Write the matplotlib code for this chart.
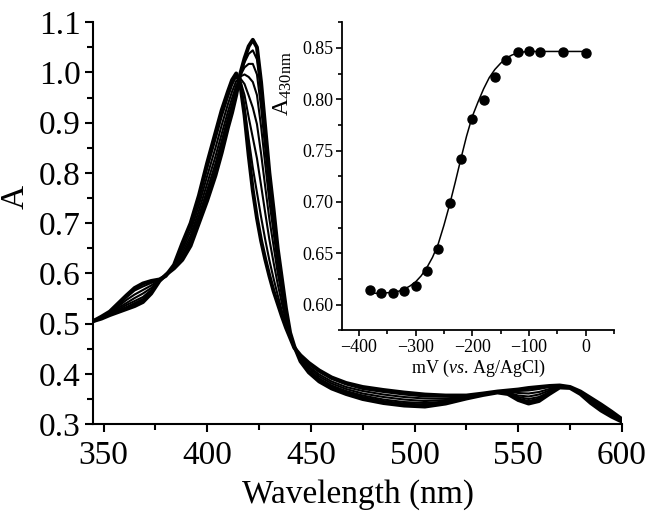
import matplotlib.pyplot as plt
from matplotlib.ticker import MultipleLocator, FormatStrFormatter

plt.rcParams['font.family'] = ['Liberation Serif', 'DejaVu Serif']
plt.rcParams['mathtext.fontset'] = 'custom'
plt.rcParams['mathtext.rm'] = 'Liberation Serif'
plt.rcParams['mathtext.it'] = 'Liberation Serif:italic'

# wavelength grid (nm) shared by all spectra
wl = [345, 349, 353, 357, 361, 365, 369, 373, 377, 380,
      384, 388, 392, 396, 400, 404, 407, 410, 412, 414,
      416, 418, 420, 422, 424, 426, 428, 430, 432, 434,
      436, 438, 440, 442, 445, 449, 454, 460, 467, 475,
      485, 495, 505, 515, 525, 533, 540, 545, 550, 555,
      560, 565, 570, 575, 580, 585, 590, 595, 600]

# spectra, from the 415 nm form to the 422 nm form
spec_a = [0.505, 0.514, 0.524, 0.540, 0.556, 0.571, 0.580, 0.585, 0.588, 0.595,
          0.617, 0.660, 0.700, 0.755, 0.820, 0.880, 0.925, 0.962, 0.985, 0.998,
          0.975, 0.915, 0.835, 0.765, 0.710, 0.665, 0.628, 0.595, 0.565, 0.540,
          0.515, 0.492, 0.472, 0.452, 0.437, 0.422, 0.407, 0.393, 0.382, 0.374,
          0.368, 0.363, 0.359, 0.357, 0.357, 0.361, 0.365, 0.367, 0.369, 0.372,
          0.374, 0.376, 0.377, 0.374, 0.365, 0.352, 0.339, 0.325, 0.310]
spec_b = [0.505, 0.513, 0.523, 0.537, 0.552, 0.566, 0.574, 0.581, 0.588, 0.595,
          0.616, 0.655, 0.693, 0.747, 0.809, 0.867, 0.912, 0.951, 0.975, 0.992,
          0.979, 0.932, 0.868, 0.810, 0.761, 0.712, 0.667, 0.626, 0.590, 0.557,
          0.526, 0.498, 0.474, 0.452, 0.435, 0.419, 0.404, 0.390, 0.379, 0.370,
          0.364, 0.359, 0.355, 0.355, 0.356, 0.361, 0.365, 0.366, 0.366, 0.367,
          0.370, 0.374, 0.376, 0.374, 0.364, 0.351, 0.337, 0.324, 0.309]
spec_c = [0.505, 0.513, 0.522, 0.534, 0.547, 0.558, 0.567, 0.576, 0.587, 0.596,
          0.615, 0.648, 0.684, 0.736, 0.794, 0.850, 0.895, 0.937, 0.962, 0.983,
          0.983, 0.955, 0.911, 0.870, 0.829, 0.775, 0.720, 0.667, 0.622, 0.579,
          0.541, 0.505, 0.476, 0.453, 0.433, 0.415, 0.399, 0.385, 0.374, 0.366,
          0.359, 0.354, 0.351, 0.351, 0.355, 0.360, 0.364, 0.365, 0.362, 0.361,
          0.364, 0.370, 0.376, 0.373, 0.363, 0.349, 0.335, 0.322, 0.308]
spec_d = [0.505, 0.512, 0.520, 0.531, 0.541, 0.551, 0.560, 0.571, 0.586, 0.596,
          0.613, 0.642, 0.675, 0.725, 0.779, 0.833, 0.878, 0.922, 0.949, 0.974,
          0.988, 0.977, 0.954, 0.930, 0.897, 0.838, 0.772, 0.708, 0.655, 0.601,
          0.556, 0.513, 0.478, 0.454, 0.430, 0.412, 0.395, 0.381, 0.370, 0.361,
          0.354, 0.349, 0.346, 0.348, 0.354, 0.359, 0.364, 0.363, 0.357, 0.355,
          0.359, 0.367, 0.375, 0.373, 0.362, 0.347, 0.332, 0.320, 0.307]
spec_e = [0.505, 0.511, 0.519, 0.528, 0.537, 0.545, 0.553, 0.567, 0.586, 0.596,
          0.612, 0.636, 0.668, 0.715, 0.766, 0.819, 0.864, 0.910, 0.938, 0.967,
          0.992, 0.996, 0.991, 0.981, 0.955, 0.892, 0.817, 0.743, 0.682, 0.619,
          0.569, 0.519, 0.479, 0.454, 0.428, 0.408, 0.391, 0.377, 0.366, 0.357,
          0.349, 0.344, 0.342, 0.345, 0.353, 0.359, 0.364, 0.362, 0.354, 0.350,
          0.354, 0.364, 0.374, 0.373, 0.361, 0.345, 0.330, 0.318, 0.306]
spec_f = [0.505, 0.511, 0.518, 0.526, 0.533, 0.541, 0.549, 0.564, 0.586, 0.597,
          0.611, 0.632, 0.662, 0.709, 0.757, 0.809, 0.854, 0.902, 0.930, 0.962,
          0.994, 1.010, 1.017, 1.017, 0.996, 0.930, 0.848, 0.767, 0.702, 0.632,
          0.578, 0.524, 0.480, 0.455, 0.427, 0.406, 0.389, 0.375, 0.364, 0.354,
          0.346, 0.341, 0.339, 0.344, 0.352, 0.358, 0.363, 0.361, 0.351, 0.346,
          0.351, 0.363, 0.374, 0.372, 0.361, 0.344, 0.329, 0.317, 0.306]
spec_g = [0.505, 0.510, 0.518, 0.524, 0.531, 0.538, 0.546, 0.562, 0.585, 0.597,
          0.611, 0.629, 0.658, 0.704, 0.750, 0.801, 0.846, 0.895, 0.925, 0.958,
          0.996, 1.020, 1.037, 1.044, 1.026, 0.958, 0.872, 0.786, 0.717, 0.642,
          0.585, 0.527, 0.481, 0.455, 0.426, 0.404, 0.387, 0.373, 0.362, 0.352,
          0.344, 0.339, 0.337, 0.342, 0.351, 0.358, 0.363, 0.361, 0.350, 0.343,
          0.348, 0.361, 0.373, 0.372, 0.360, 0.343, 0.328, 0.316, 0.305]
spec_h = [0.505, 0.510, 0.517, 0.523, 0.529, 0.535, 0.543, 0.560, 0.585, 0.597,
          0.610, 0.627, 0.655, 0.700, 0.745, 0.795, 0.840, 0.890, 0.920, 0.955,
          0.998, 1.028, 1.052, 1.065, 1.050, 0.980, 0.890, 0.800, 0.728, 0.650,
          0.590, 0.530, 0.482, 0.455, 0.425, 0.403, 0.385, 0.371, 0.360, 0.350,
          0.342, 0.337, 0.335, 0.341, 0.351, 0.358, 0.363, 0.360, 0.348, 0.341,
          0.346, 0.360, 0.373, 0.372, 0.360, 0.342, 0.327, 0.315, 0.305]
spectra = [spec_a, spec_b, spec_c, spec_d, spec_e, spec_f, spec_g, spec_h]

# inset: A430 vs potential
mv = [-380, -360, -340, -320, -300, -280, -260, -240, -220, -200, -180, -160,
      -140, -120, -100, -80, -40, 0]
a430 = [0.614, 0.611, 0.611, 0.613, 0.618, 0.633, 0.654, 0.699, 0.742, 0.781,
        0.799, 0.822, 0.838, 0.846, 0.847, 0.846, 0.846, 0.845]

# fitted curve as drawn in the inset
fit_mv = [-380, -370, -360, -350, -340, -330, -320, -310, -300, -290, -280, -270,
          -260, -250, -240, -230, -220, -210, -200, -190, -180, -170, -160, -150,
          -140, -130, -120, -110, -100, -80, -40, 0]
fit_a = [0.6115, 0.611, 0.611, 0.6115, 0.612, 0.613, 0.615, 0.618, 0.622, 0.628,
         0.636, 0.646, 0.659, 0.677, 0.697, 0.719, 0.742, 0.764, 0.783, 0.797,
         0.810, 0.821, 0.829, 0.835, 0.840, 0.843, 0.845, 0.846, 0.8465, 0.8465,
         0.8465, 0.8465]

fig = plt.figure(figsize=(6.56, 5.16), dpi=100)
ax = fig.add_axes([0.142, 0.178, 0.806, 0.779])

for k, s in enumerate(spectra):
    lw = 2.8 if k in (0, len(spectra) - 1) else 1.5
    ax.plot(wl, s, color='black', lw=lw, solid_joinstyle='round')

ax.set_xlim(345, 600)
ax.set_ylim(0.3, 1.1)
ax.xaxis.set_major_locator(MultipleLocator(50))
ax.xaxis.set_minor_locator(MultipleLocator(25))
ax.yaxis.set_major_locator(MultipleLocator(0.1))
ax.yaxis.set_minor_locator(MultipleLocator(0.05))
ax.yaxis.set_major_formatter(FormatStrFormatter('%.1f'))
for side in ('top', 'right'):
    ax.spines[side].set_visible(False)
for side in ('left', 'bottom'):
    ax.spines[side].set_linewidth(1.5)
ax.tick_params(which='both', direction='out', width=1.5, labelsize=24)
ax.tick_params(axis='x', pad=6)
ax.tick_params(axis='y', pad=3)
ax.tick_params(which='major', length=6)
ax.tick_params(which='minor', length=4)
ax.set_xlabel('Wavelength (nm)', fontsize=24, labelpad=6)
ax.set_ylabel('A', fontsize=24)
ax.yaxis.set_label_coords(-0.118, 0.565)

ins = fig.add_axes([0.521, 0.360, 0.415, 0.597])
ins.patch.set_alpha(0)
ins.plot(fit_mv, fit_a, color='black', lw=1.1)
ins.plot(mv, a430, 'o', color='black', ms=6.5)
ins.set_xlim(-430, 50)
ins.set_ylim(0.575, 0.875)
ins.xaxis.set_major_locator(MultipleLocator(100))
ins.xaxis.set_minor_locator(MultipleLocator(50))
ins.yaxis.set_major_locator(MultipleLocator(0.05))
ins.yaxis.set_minor_locator(MultipleLocator(0.025))
ins.yaxis.set_major_formatter(FormatStrFormatter('%.2f'))
for side in ('top', 'right'):
    ins.spines[side].set_visible(False)
for side in ('left', 'bottom'):
    ins.spines[side].set_linewidth(1.3)
ins.tick_params(which='both', direction='out', width=1.2, labelsize=13, pad=2)
ins.tick_params(which='major', length=4)
ins.tick_params(which='minor', length=3)
ins.set_xlabel('mV ($\\mathit{vs}$. Ag/AgCl)', fontsize=13, labelpad=2)
ins.set_ylabel('A$_{\\rm 430nm}$', fontsize=17)
ins.yaxis.set_label_coords(-0.175, 0.80)

fig.savefig('out.png', dpi=100)
